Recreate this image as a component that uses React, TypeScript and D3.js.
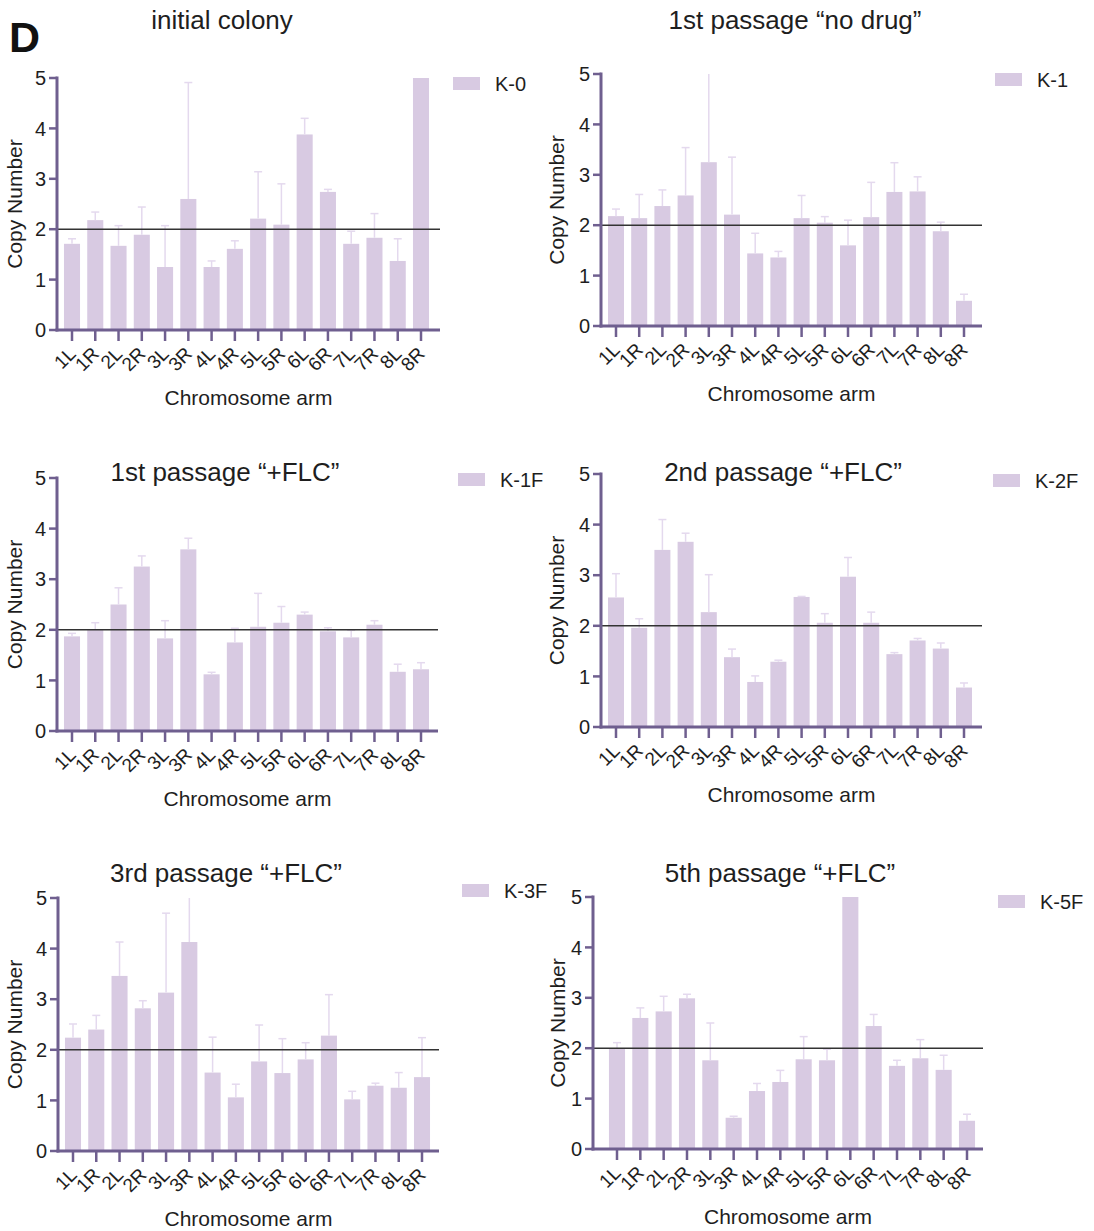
import React from 'react';
import * as d3 from 'd3';

// chromosome arms, shared by all panels
const arms = ['1L', '1R', '2L', '2R', '3L', '3R', '4L', '4R', '5L', '5R', '6L', '6R', '7L', '7R', '8L', '8R'];
const yTicks = [0, 1, 2, 3, 4, 5];

// copy number means and SD (upper error only)
const k0Mean = [1.71, 2.18, 1.67, 1.89, 1.25, 2.60, 1.25, 1.61, 2.21, 2.09, 3.88, 2.74, 1.71, 1.83, 1.37, 5.0];
const k0Sd = [0.10, 0.16, 0.40, 0.55, 0.82, 2.31, 0.12, 0.16, 0.93, 0.81, 0.32, 0.05, 0.25, 0.48, 0.44, 0];

const k1Mean = [2.18, 2.14, 2.38, 2.59, 3.25, 2.21, 1.44, 1.36, 2.14, 2.05, 1.60, 2.16, 2.66, 2.67, 1.88, 0.50];
const k1Sd = [0.14, 0.47, 0.32, 0.95, 1.90, 1.14, 0.40, 0.12, 0.45, 0.12, 0.50, 0.69, 0.58, 0.29, 0.18, 0.13];

const k1fMean = [1.87, 2.00, 2.50, 3.25, 1.83, 3.59, 1.12, 1.75, 2.06, 2.14, 2.30, 1.97, 1.85, 2.10, 1.17, 1.22];
const k1fSd = [0.06, 0.14, 0.33, 0.21, 0.35, 0.22, 0.04, 0.28, 0.66, 0.32, 0.05, 0.07, 0.14, 0.08, 0.15, 0.13];

const k2fMean = [2.56, 1.96, 3.50, 3.66, 2.27, 1.38, 0.89, 1.29, 2.57, 2.06, 2.97, 2.06, 1.44, 1.71, 1.55, 0.78];
const k2fSd = [0.47, 0.18, 0.60, 0.17, 0.74, 0.16, 0.12, 0.03, 0.01, 0.18, 0.38, 0.21, 0.03, 0.04, 0.11, 0.09];

const k3fMean = [2.24, 2.40, 3.46, 2.82, 3.13, 4.13, 1.55, 1.06, 1.77, 1.54, 1.81, 2.28, 1.02, 1.29, 1.25, 1.46];
const k3fSd = [0.27, 0.28, 0.67, 0.15, 1.57, 1.00, 0.70, 0.26, 0.72, 0.68, 0.33, 0.81, 0.16, 0.05, 0.30, 0.78];

const k5fMean = [1.99, 2.60, 2.73, 2.99, 1.76, 0.62, 1.15, 1.33, 1.78, 1.76, 5.0, 2.44, 1.65, 1.80, 1.57, 0.56];
const k5fSd = [0.12, 0.20, 0.30, 0.08, 0.74, 0.03, 0.15, 0.23, 0.45, 0.22, 0, 0.23, 0.11, 0.37, 0.29, 0.13];

const FONT = '"Liberation Sans", Arial, Helvetica, sans-serif';
const BAR = '#d8cae2';
const ERR = '#e4d9ee';
const AXIS = '#6f5f8f';
const TEXT = '#1e1e1e';

// layout of each panel on the page
const panels = [
  { title: 'initial colony', series: 'K-0', mean: k0Mean, sd: k0Sd,
    ax: 57, xEnd: 440, y5: 78, y0: 330, t0: 72, t1: 421, titleX: 222, titleY: 29, yLabX: 22,
    legX: 453, legY: 77 },
  { title: '1st passage \u201cno drug\u201d', series: 'K-1', mean: k1Mean, sd: k1Sd,
    ax: 601, xEnd: 982, y5: 74, y0: 326, t0: 616, t1: 964, titleX: 795, titleY: 29, yLabX: 564,
    legX: 995, legY: 73 },
  { title: '1st passage \u201c+FLC\u201d', series: 'K-1F', mean: k1fMean, sd: k1fSd,
    ax: 57, xEnd: 438, y5: 478, y0: 731, t0: 72, t1: 421, titleX: 225, titleY: 481, yLabX: 22,
    legX: 458, legY: 473 },
  { title: '2nd passage \u201c+FLC\u201d', series: 'K-2F', mean: k2fMean, sd: k2fSd,
    ax: 601, xEnd: 982, y5: 474, y0: 727, t0: 616, t1: 964, titleX: 783, titleY: 481, yLabX: 564,
    legX: 993, legY: 474 },
  { title: '3rd passage \u201c+FLC\u201d', series: 'K-3F', mean: k3fMean, sd: k3fSd,
    ax: 58, xEnd: 439, y5: 898, y0: 1151, t0: 73, t1: 422, titleX: 226, titleY: 882, yLabX: 22,
    legX: 462, legY: 884 },
  { title: '5th passage \u201c+FLC\u201d', series: 'K-5F', mean: k5fMean, sd: k5fSd,
    ax: 593, xEnd: 983, y5: 897, y0: 1149, t0: 617, t1: 967, titleX: 780, titleY: 882, yLabX: 565,
    legX: 998, legY: 895 },
];

function Panel({ p }) {
  const step = (p.t1 - p.t0) / (arms.length - 1);
  const x = d3.scaleBand()
    .domain(arms)
    .range([p.t0 - step / 2, p.t1 + step / 2])
    .paddingInner(0.31)
    .paddingOuter(0.155);
  const y = d3.scaleLinear().domain([0, 5]).range([p.y0, p.y5]);
  const clamp = (v) => Math.min(v, 5);
  const cap = 4;

  return (
    <g>
      <text x={p.titleX} y={p.titleY} textAnchor="middle" fontSize={26} fill={TEXT}>{p.title}</text>

      {arms.map((a, i) => {
        const cx = x(a) + x.bandwidth() / 2;
        const top = y(clamp(p.mean[i]));
        const eTop = y(clamp(p.mean[i] + p.sd[i]));
        return (
          <g key={a}>
            <rect x={x(a)} y={top} width={x.bandwidth()} height={p.y0 - top} fill={BAR} />
            {p.sd[i] > 0 && (
              <g stroke={ERR} strokeWidth={1.5}>
                <line x1={cx} x2={cx} y1={top} y2={eTop} />
                {p.mean[i] + p.sd[i] < 5 && <line x1={cx - cap} x2={cx + cap} y1={eTop} y2={eTop} />}
              </g>
            )}
          </g>
        );
      })}

      {/* reference line at diploid copy number */}
      <line x1={p.ax} x2={p.xEnd} y1={y(2)} y2={y(2)} stroke="#333" strokeWidth={1.5} />

      {/* y axis */}
      <line x1={p.ax} x2={p.ax} y1={p.y5 - 1.5} y2={p.y0 + 1.5} stroke={AXIS} strokeWidth={3} />
      {yTicks.map(t => (
        <g key={t}>
          <line x1={p.ax - 8} x2={p.ax} y1={y(t)} y2={y(t)} stroke={AXIS} strokeWidth={2.5} />
          <text x={p.ax - 11} y={y(t)} dy="0.36em" textAnchor="end" fontSize={20} fill={TEXT}>{t}</text>
        </g>
      ))}
      <text transform={`translate(${p.yLabX},${(p.y0 + p.y5) / 2}) rotate(-90)`} textAnchor="middle"
        fontSize={21} fill={TEXT}>Copy Number</text>

      {/* x axis */}
      <line x1={p.ax - 1.5} x2={p.xEnd} y1={p.y0} y2={p.y0} stroke={AXIS} strokeWidth={3} />
      {arms.map(a => {
        const cx = x(a) + x.bandwidth() / 2;
        return (
          <g key={a}>
            <line x1={cx} x2={cx} y1={p.y0} y2={p.y0 + 11} stroke={AXIS} strokeWidth={2.5} />
            <text transform={`translate(${cx + 5},${p.y0 + 25}) rotate(-45)`} textAnchor="end"
              fontSize={19} fill={TEXT}>{a}</text>
          </g>
        );
      })}
      <text x={(p.ax + p.xEnd) / 2} y={p.y0 + 75} textAnchor="middle" fontSize={21} fill={TEXT}>Chromosome arm</text>

      {/* legend */}
      <rect x={p.legX} y={p.legY} width={27} height={13} fill={BAR} />
      <text x={p.legX + 42} y={p.legY + 7} dy="0.36em" fontSize={20} fill={TEXT}>{p.series}</text>
    </g>
  );
}

export default function App() {
  return (
    <svg width={1094} height={1231} fontFamily={FONT}
      style={{ position: 'absolute', left: 0, top: 0, background: '#fff' }}>
      <text x={9} y={52} fontSize={43} fontWeight="bold" fill="#111">D</text>
      {panels.map(p => <Panel key={p.series} p={p} />)}
    </svg>
  );
}
